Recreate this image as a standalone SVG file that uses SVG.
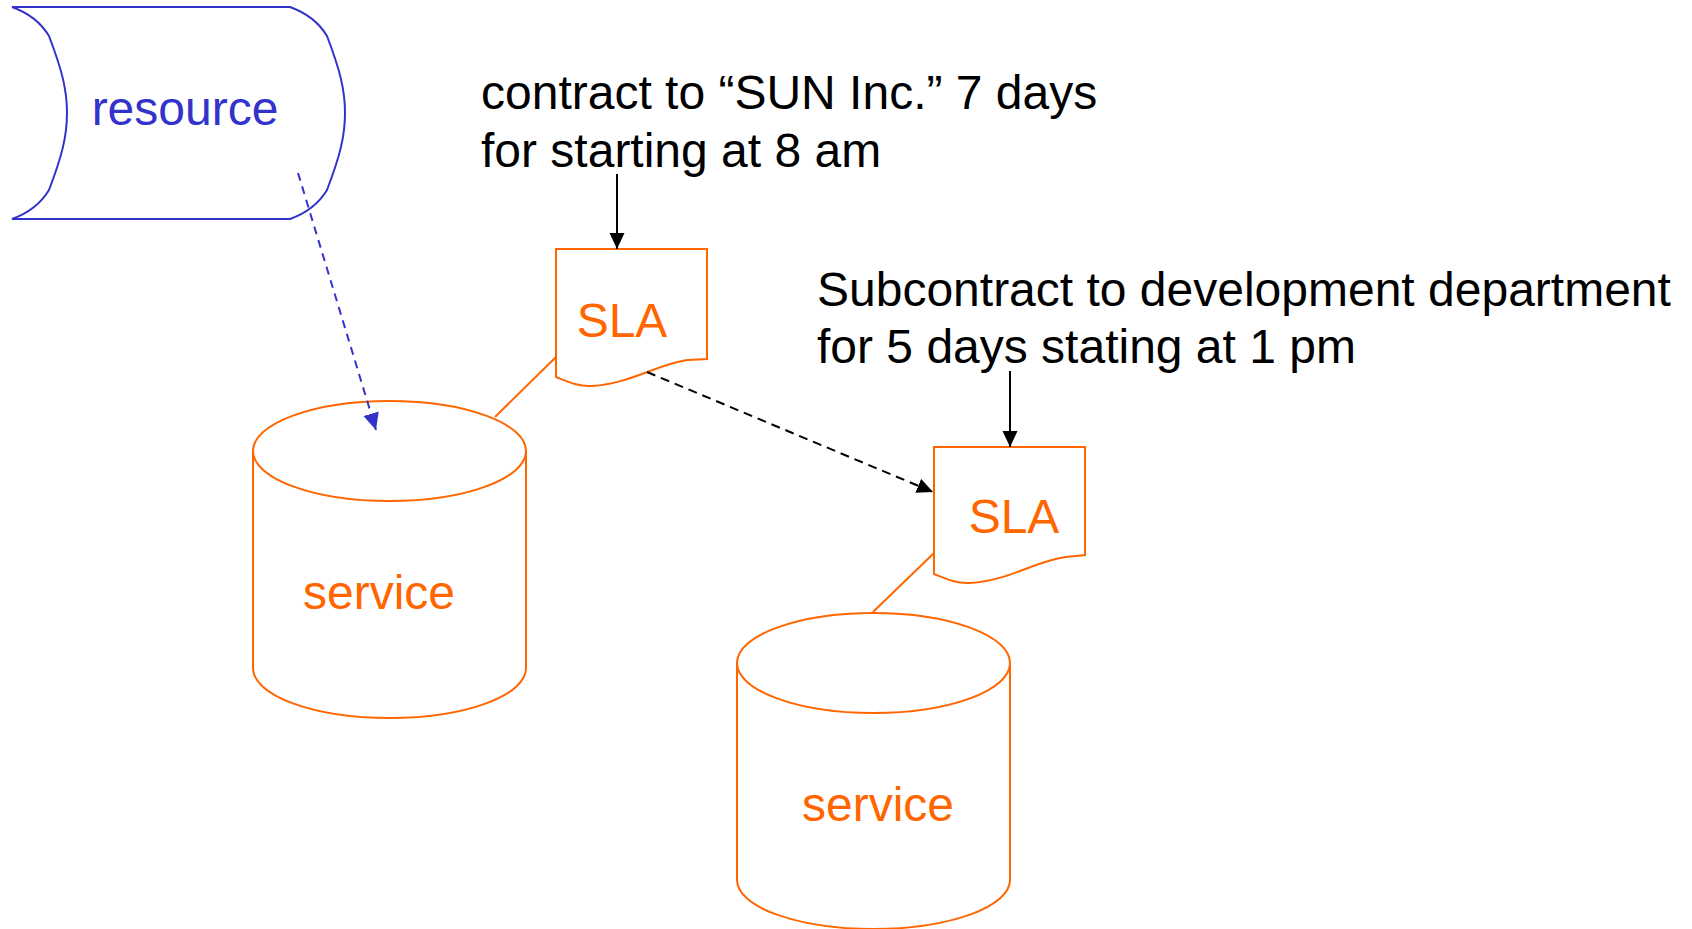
<svg xmlns="http://www.w3.org/2000/svg" width="1692" height="929" viewBox="0 0 1692 929">
<style>
  .txt { font-family: "Liberation Sans", Arial, sans-serif; font-size: 48px; }
  .black { fill: #000000; }
  .orange { fill: #ff6600; }
  .blue { fill: #3333cc; }
  .oshape { fill: #ffffff; stroke: #ff6600; stroke-width: 2; }
  .bshape { fill: #ffffff; stroke: #3333cc; stroke-width: 2; }
  .oline { fill: none; stroke: #ff6600; stroke-width: 2; }
  .kline { fill: none; stroke: #000000; stroke-width: 2; }
  .kdash { fill: none; stroke: #000000; stroke-width: 2; stroke-dasharray: 9 6; }
  .bdash { fill: none; stroke: #3333cc; stroke-width: 2; stroke-dasharray: 8 6; }
</style>
<defs>
  <marker id="headK" markerUnits="userSpaceOnUse" markerWidth="17" markerHeight="16" refX="16" refY="7.5" orient="auto">
    <path d="M0,0 L16,7.5 L0,15 z" fill="#000000"/>
  </marker>
  <marker id="headB" markerUnits="userSpaceOnUse" markerWidth="18" markerHeight="17" refX="17" refY="8" orient="auto">
    <path d="M0,0 L17,8 L0,16 z" fill="#3333cc"/>
  </marker>
</defs>
<rect x="0" y="0" width="1692" height="929" fill="#ffffff"/>

<g id="resource">
  <path class="bshape" d="M12,7 L290,7 Q315,16 327,36 C340,70 345,90 345,113 C345,136 340,156 327,190 Q315,210 290,219 L12,219 Q37,210 49,190 C62,156 67,136 67,113 C67,90 62,70 49,36 Q37,16 12,7 Z"/>
  <text class="txt blue" x="185" y="125" text-anchor="middle">resource</text>
</g>

<g id="service1">
  <path class="oshape" d="M253,451 L253,668 A136.5,50 0 0 0 526,668 L526,451 Z"/>
  <ellipse class="oshape" cx="389.5" cy="451" rx="136.5" ry="50"/>
  <text class="txt orange" x="379" y="609" text-anchor="middle">service</text>
</g>

<g id="service2">
  <path class="oshape" d="M737,663 L737,880 A136.5,49 0 0 0 1010,880 L1010,663 Z"/>
  <ellipse class="oshape" cx="873.5" cy="663" rx="136.5" ry="50"/>
  <text class="txt orange" x="878" y="821" text-anchor="middle">service</text>
</g>

<g id="sla1">
  <path class="oshape" d="M556,249 H707 V359 L688,360 C660,363 630,384 592,386 C578,387 566,381 556,377 Z"/>
  <text class="txt orange" x="622" y="337" text-anchor="middle">SLA</text>
</g>

<g id="sla2">
  <path class="oshape" d="M934,447 H1085 V555 L1066,557 C1038,560 1008,581 970,583 C956,584 944,578 934,574 Z"/>
  <text class="txt orange" x="1014" y="533" text-anchor="middle">SLA</text>
</g>

<g id="label1">
  <text class="txt black" x="481" y="109">contract to “SUN Inc.” 7 days</text>
  <text class="txt black" x="481" y="167">for starting at 8 am</text>
</g>

<g id="label2">
  <text class="txt black" x="817" y="306">Subcontract to development department</text>
  <text class="txt black" x="817" y="363">for 5 days stating at 1 pm</text>
</g>

<g id="connectors">
  <line class="oline" x1="556" y1="357" x2="495" y2="417"/>
  <line class="oline" x1="934" y1="553" x2="873" y2="612"/>
  <line class="kline" x1="617" y1="174" x2="617" y2="249" marker-end="url(#headK)"/>
  <line class="kline" x1="1010" y1="371" x2="1010" y2="447" marker-end="url(#headK)"/>
  <line class="kdash" x1="647" y1="372" x2="933" y2="492" marker-end="url(#headK)"/>
  <line class="bdash" x1="298" y1="173" x2="376" y2="430" marker-end="url(#headB)"/>
</g>
</svg>
